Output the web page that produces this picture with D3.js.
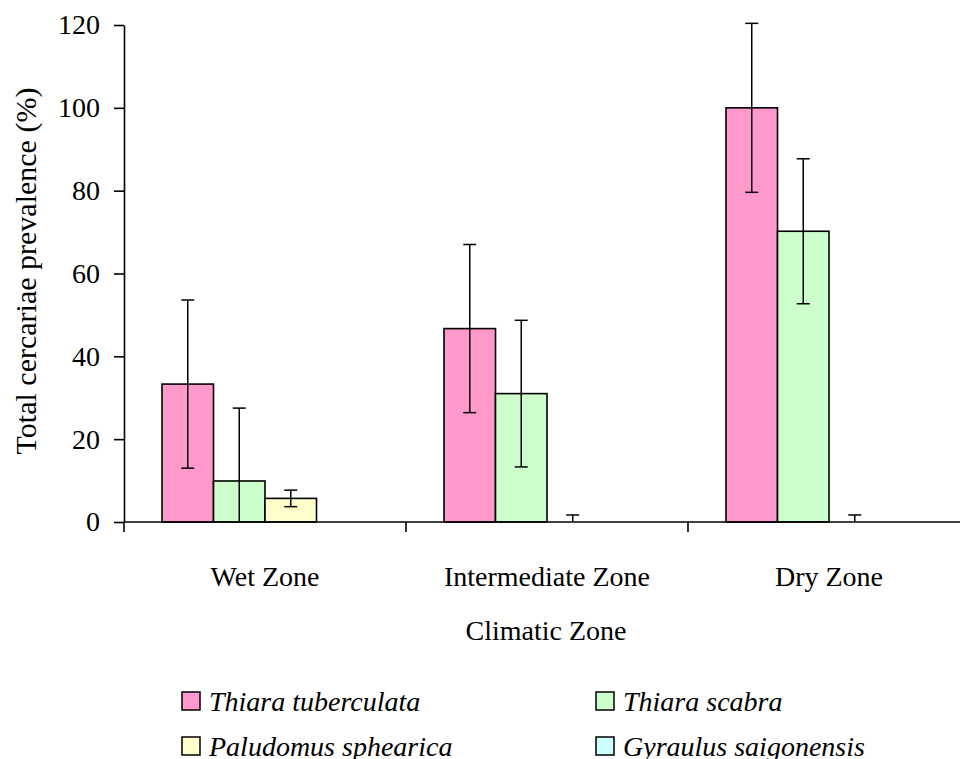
<!DOCTYPE html>
<html>
<head>
<meta charset="utf-8">
<title>Cercariae prevalence</title>
<script src="https://cdn.jsdelivr.net/npm/d3@7"></script>
<style>
  body { margin: 0; background: #fff; }
  text { font-family: "Liberation Serif", "Times New Roman", serif; fill: #000; }
</style>
</head>
<body>
<script>
// values
var zones = ["Wet Zone", "Intermediate Zone", "Dry Zone"];
var species = ["Thiara tuberculata", "Thiara scabra", "Paludomus sphearica", "Gyraulus saigonensis"];
var colors = ["#ff99cc", "#ccffcc", "#ffffcc", "#ccffff"];

var tuberculata = [33.3, 46.7, 100];
var tuberculataErr = [20.3, 20.3, 20.4];
var scabra = [9.9, 31, 70.2];
var scabraErr = [17.6, 17.7, 17.5];
var paludomus = [5.7, 0, 0];
var paludomusErr = [2.0, 1.7, 1.7];
var gyraulus = [0, 0, 0];
var gyraulusErr = [null, null, null];

var yTicks = [0, 20, 40, 60, 80, 100, 120];

var values = [tuberculata, scabra, paludomus, gyraulus];
var errors = [tuberculataErr, scabraErr, paludomusErr, gyraulusErr];

var rows = [];
zones.forEach(function(z, i) {
  species.forEach(function(s, j) {
    rows.push({zone: z, sp: s, k: j, v: values[j][i], e: errors[j][i]});
  });
});

var W = 960, H = 759;
var plotLeft = 124, plotBottom = 522, plotTop = 25;

var svg = d3.select("body").append("svg")
  .attr("width", W)
  .attr("height", H);

var x0 = d3.scaleBand().domain(zones).range([plotLeft, plotLeft + 3 * 282]);
var x1 = d3.scaleBand().domain(species).range([38, 244]);
var y = d3.scaleLinear().domain([0, 120]).range([plotBottom, plotTop]);

// bars
svg.selectAll("rect.bar")
  .data(rows)
  .enter()
    .append("rect")
    .attr("class", "bar")
    .attr("x", function(d){ return x0(d.zone) + x1(d.sp); })
    .attr("y", function(d){ return y(d.v); })
    .attr("width", x1.bandwidth())
    .attr("height", function(d){ return y(0) - y(d.v); })
    .attr("fill", function(d){ return colors[d.k]; })
    .attr("stroke", "#000")
    .attr("stroke-width", 1.6);

// error bars, clipped at zero like the original
var eb = rows.filter(function(d){ return d.e != null; });
var cx = function(d){ return x0(d.zone) + x1(d.sp) + x1.bandwidth() / 2; };
var lo = function(d){ return Math.max(0, d.v - d.e); };

svg.selectAll("line.err")
  .data(eb)
  .enter()
    .append("line")
    .attr("x1", cx).attr("x2", cx)
    .attr("y1", function(d){ return y(d.v + d.e); })
    .attr("y2", function(d){ return y(lo(d)); })
    .attr("stroke", "#000").attr("stroke-width", 1.5);

svg.selectAll("line.capTop")
  .data(eb)
  .enter()
    .append("line")
    .attr("x1", function(d){ return cx(d) - 6.5; })
    .attr("x2", function(d){ return cx(d) + 6.5; })
    .attr("y1", function(d){ return y(d.v + d.e); })
    .attr("y2", function(d){ return y(d.v + d.e); })
    .attr("stroke", "#000").attr("stroke-width", 1.5);

svg.selectAll("line.capBot")
  .data(eb.filter(function(d){ return d.v - d.e > 0; }))
  .enter()
    .append("line")
    .attr("x1", function(d){ return cx(d) - 6.5; })
    .attr("x2", function(d){ return cx(d) + 6.5; })
    .attr("y1", function(d){ return y(d.v - d.e); })
    .attr("y2", function(d){ return y(d.v - d.e); })
    .attr("stroke", "#000").attr("stroke-width", 1.5);

// y axis
var yAxis = svg.append("g")
  .attr("transform", "translate(" + plotLeft + ",0)")
  .call(d3.axisLeft(y).tickValues(yTicks).tickSize(10).tickSizeOuter(0).tickPadding(14));
yAxis.selectAll("path, line").attr("stroke", "#000").attr("stroke-width", 1.6);
yAxis.selectAll("text").style("font-size", "28px").attr("font-family", null);

// x axis
svg.append("line")
  .attr("x1", plotLeft).attr("x2", W)
  .attr("y1", plotBottom).attr("y2", plotBottom)
  .attr("stroke", "#000").attr("stroke-width", 1.6);

svg.selectAll("line.xtick")
  .data(zones)
  .enter()
    .append("line")
    .attr("x1", function(d){ return x0(d); })
    .attr("x2", function(d){ return x0(d); })
    .attr("y1", plotBottom).attr("y2", plotBottom + 10)
    .attr("stroke", "#000").attr("stroke-width", 1.6);

svg.selectAll("text.xlab")
  .data(zones)
  .enter()
    .append("text")
    .attr("x", function(d){ return x0(d) + x0.bandwidth() / 2; })
    .attr("y", 586)
    .attr("text-anchor", "middle")
    .style("font-size", "28px")
    .text(function(d){ return d; });

svg.append("text")
  .attr("x", 546).attr("y", 640)
  .attr("text-anchor", "middle")
  .style("font-size", "28px")
  .text("Climatic Zone");

svg.append("text")
  .attr("transform", "translate(36,271) rotate(-90)")
  .attr("text-anchor", "middle")
  .style("font-size", "30px")
  .text("Total cercariae prevalence (%)");

// legend
var lx = [182, 596], ly = [711, 756];
var leg = svg.selectAll("g.leg")
  .data(species)
  .enter()
    .append("g")
    .attr("transform", function(d, i){ return "translate(" + lx[i % 2] + "," + ly[Math.floor(i / 2)] + ")"; });

leg.append("rect")
  .attr("x", 0).attr("y", -19)
  .attr("width", 18).attr("height", 18)
  .attr("fill", function(d, i){ return colors[i]; })
  .attr("stroke", "#000").attr("stroke-width", 1.5);

leg.append("text")
  .attr("x", 27).attr("y", 0)
  .style("font-size", "28px")
  .style("font-style", "italic")
  .text(function(d){ return d; });
</script>
</body>
</html>
